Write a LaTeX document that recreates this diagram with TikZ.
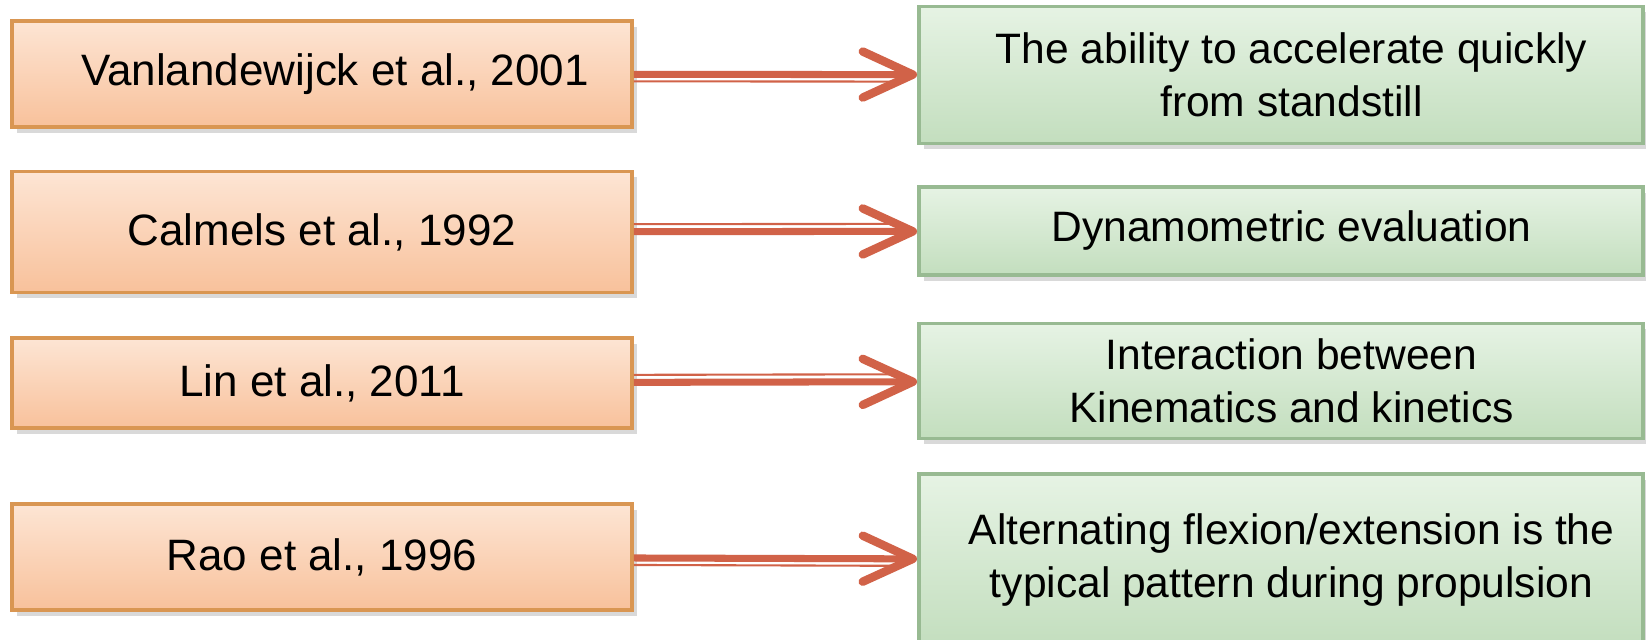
\documentclass[tikz,border=0pt]{standalone}
\usepackage{fontspec}
\setmainfont{Liberation Sans}
\usetikzlibrary{arrows.meta,shadows}

\definecolor{peachtop}{RGB}{253,229,212}
\definecolor{peachbot}{RGB}{248,193,155}
\definecolor{peachline}{RGB}{217,150,82}
\definecolor{minttop}{RGB}{230,243,228}
\definecolor{mintbot}{RGB}{195,222,190}
\definecolor{mintline}{RGB}{152,186,146}
\definecolor{arrowred}{RGB}{209,98,72}

\newcommand{\pad}{\hspace*{0.21cm}}

\tikzset{
  src/.style={draw=peachline, line width=1pt, top color=peachtop, bottom color=peachbot,
    minimum width=6.2cm, inner sep=0pt, align=center,
    drop shadow={shadow xshift=1.4pt, shadow yshift=-1.6pt, opacity=0.3},
    font=\fontsize{12.5}{15}\selectfont},
  dst/.style={draw=mintline, line width=1pt, top color=minttop, bottom color=mintbot,
    minimum width=7.24cm, inner sep=0pt, align=center,
    drop shadow={shadow xshift=1.4pt, shadow yshift=-1.6pt, opacity=0.3},
    font=\fontsize{12.1}{15}\selectfont},
  link/.style={draw=arrowred, line width=2pt,
    -{Straight Barb[length=5mm,width=4.6mm,line width=2.4pt,round]}},
  sidebar/.style={draw=arrowred, line width=0.6pt, shorten >=2.2mm}
}

\begin{document}
\begin{tikzpicture}[x=0.01cm, y=-0.01cm]

  \useasboundingbox (0,0) rectangle (1646,640);

  % authors
  \node (van) at (322,74) [src, minimum height=1.06cm] {\hspace*{0.26cm}Vanlandewijck et al., 2001};
  \node (cal) at (322,232) [src, minimum height=1.21cm] {Calmels et al., 1992};
  \node (lin) at (322,383) [src, minimum height=0.9cm] {Lin et al., 2011};
  \node (rao) at (322,557) [src, minimum height=1.06cm] {Rao et al., 1996};

  % findings
  \node (acc) at (1281,75) [dst, minimum height=1.37cm]
    {\pad The ability to accelerate quickly\\\pad from standstill};
  \node (dyn) at (1281,231) [dst, minimum height=0.88cm] {\pad Dynamometric evaluation};
  \node (kin) at (1281,381) [dst, minimum height=1.15cm]
    {\pad Interaction between\\\pad Kinematics and kinetics};
  \node (alt) at (1281,560) [dst, minimum height=1.72cm]
    {\pad Alternating flexion/extension is the\\\pad typical pattern during propulsion};

  \draw [link] (van) -- (acc);
  \draw [link] (cal) -- (dyn);
  \draw [link] (lin) -- (kin);
  \draw [link] (rao) -- (alt);

  \draw [sidebar, transform canvas={yshift=-0.7mm}] (van) -- (acc);
  \draw [sidebar, transform canvas={yshift=0.75mm}] (cal) -- (dyn);
  \draw [sidebar, transform canvas={yshift=0.75mm}] (lin) -- (kin);
  \draw [sidebar, transform canvas={yshift=-0.7mm}] (rao) -- (alt);

\end{tikzpicture}
\end{document}
